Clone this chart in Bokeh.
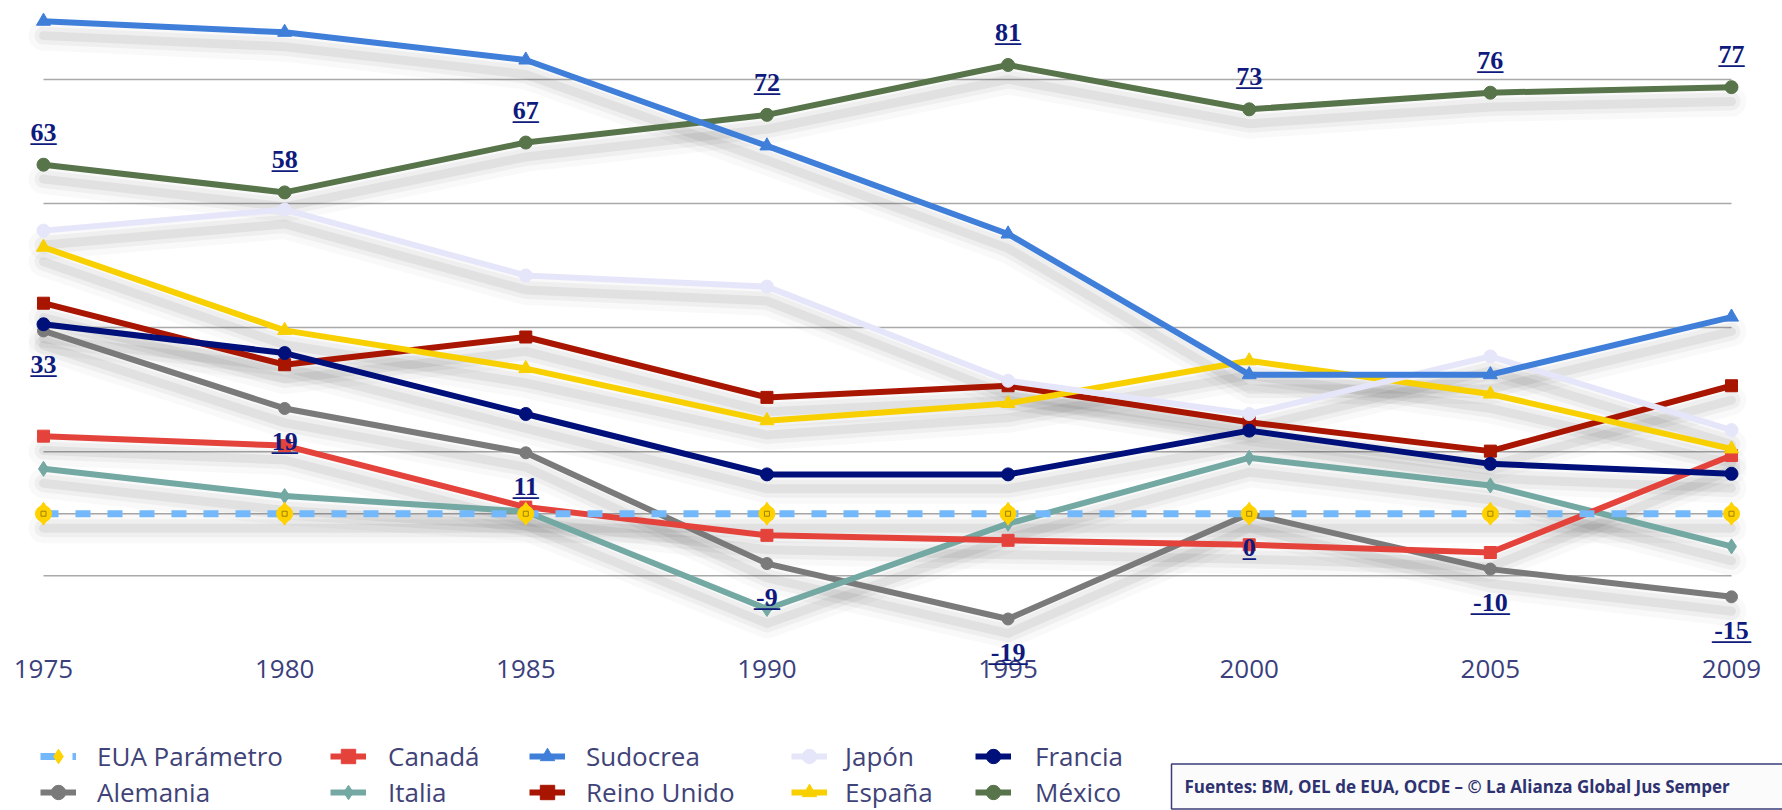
from bokeh.plotting import figure
from bokeh.models import (Range1d, Legend, LegendItem, LabelSet, Label,
                          ColumnDataSource)
from bokeh.core.properties import value
from bokeh.embed import file_html
from bokeh.resources import INLINE

# ---------------- data ----------------
years = ["1975", "1980", "1985", "1990", "1995", "2000", "2005", "2009"]
eua_parametro = [0, 0, 0, 0, 0, 0, 0, 0]
canada = [14.0, 12.3, 1.2, -3.9, -4.8, -5.6, -7.0, 10.5]
sudocrea = [88.9, 86.9, 81.9, 66.4, 50.5, 25.1, 25.1, 35.5]
japon = [51.1, 54.9, 43.0, 41.0, 24.0, 18.0, 28.4, 15.1]
francia = [34.2, 29.0, 18.0, 7.1, 7.1, 15.0, 9.0, 7.2]
alemania = [33, 19, 11, -9, -19, 0, -10, -15]
italia = [8.1, 3.2, 0.4, -17.2, -1.8, 10.1, 5.1, -5.9]
reino_unido = [38.0, 26.9, 31.9, 21.0, 23.1, 16.5, 11.3, 23.1]
espana = [48.1, 33.1, 26.2, 16.8, 19.9, 27.6, 21.6, 11.7]
mexico = [63, 58, 67, 72, 81, 73, 76, 77]

grid_values = [-11.2, 0, 11.2, 33.6, 56.0, 78.4]
source_text = "Fuentes: BM, OEL de EUA, OCDE \u2013 \u00a9 La Alianza Global Jus Semper"

xs = list(range(len(years)))

# ---------------- figure ----------------
W, H = 1782, 810
p = figure(width=W, height=H, output_backend="svg", toolbar_location=None,
           x_range=Range1d(-0.1783, 7.2115), y_range=Range1d(-53.57, 92.64),
           x_axis_type=None, y_axis_type=None,
           min_border_left=0, min_border_right=0, min_border_top=0,
           min_border_bottom=0, outline_line_color=None,
           background_fill_color="white", border_fill_color="white")

# grid lines spanning first to last category
p.segment(x0=xs[0], x1=xs[-1], y0=grid_values, y1=grid_values,
          line_color="#a9a9a9", line_width=1.5)

# series: name, values, colour, marker, size, width, dash
series = [
    ("México", mexico, "#58744a", "circle", 13, 6, "solid"),
    ("Alemania", alemania, "#7a7a7a", "circle", 12, 6, "solid"),
    ("Italia", italia, "#73a8a3", "diamond", 15, 6, "solid"),
    ("Canadá", canada, "#e4433c", "square", 12, 6, "solid"),
    ("Reino Unido", reino_unido, "#a81500", "square", 12, 6, "solid"),
    ("Francia", francia, "#00107a", "circle", 13, 6, "solid"),
    ("España", espana, "#f8d000", "triangle", 14, 6, "solid"),
    ("Japón", japon, "#e6e6fa", "circle", 13, 6, "solid"),
    ("Sudocrea", sudocrea, "#3f7fd9", "triangle", 14, 6, "solid"),
    ("EUA Parámetro", eua_parametro, "#74b8fc", "diamond", 23, 7, "15 17"),
]

# soft shadows below the lines
for name, vals, col, mk, sz, lw, dash in series:
    shadow = [v - 2.6 for v in vals]
    for w, a in [(30, 0.025), (18, 0.04), (9, 0.055)]:
        p.line(xs, shadow, line_width=w, line_color="black", line_alpha=a,
               line_join="round", line_cap="round")

renderers = {}
for name, vals, col, mk, sz, lw, dash in series:
    ln = p.line(xs, vals, line_color=col, line_width=lw, line_dash=dash,
                line_join="round")
    if name == "EUA Parámetro":
        sc = p.scatter(xs, vals, marker=mk, size=sz, fill_color="#ffd200",
                       line_color="#ffd200")
        p.scatter(xs, vals, marker="circle", size=16, fill_color="#ffd200",
                  line_color="#ffd200")
        p.scatter(xs, vals, marker="square", size=5, fill_alpha=0,
                  line_color="#a08000", line_width=1)
        renderers[name] = [ln, sc]
    else:
        sc = p.scatter(xs, vals, marker=mk, size=sz, fill_color=col,
                       line_color=col)
        renderers[name] = [ln, sc]

# ---------------- category labels (x axis) ----------------
year_src = ColumnDataSource(dict(x=xs, t=years, yy=[142] * len(years)))
p.add_layout(LabelSet(x="x", y="yy", y_units="screen", text="t", source=year_src,
                      text_align="center", text_baseline="middle",
                      text_font=value("Open Sans"), text_font_size="26px",
                      text_color="#3b3f7c"))

# ---------------- data labels ----------------
label_color = "#0f1a7d"
mex_src = ColumnDataSource(dict(x=xs, y=mexico, t=[str(v) for v in mexico],
                                u=["_" * len(str(v)) for v in mexico]))
ale_src = ColumnDataSource(dict(x=xs, y=alemania, t=[str(v) for v in alemania],
                                u=["_" * len(str(v)) for v in alemania]))
for src, off in [(mex_src, 24), (ale_src, -42)]:
    for col in ["t", "u"]:
        ls = LabelSet(x="x", y="y", text=col, source=src, y_offset=off,
                      text_align="center", text_baseline="alphabetic",
                      text_font=value("Liberation Serif"),
                      text_font_style="bold", text_font_size="26px",
                      text_color=label_color)
        p.add_layout(ls)

# ---------------- legend (5 columns x 2 rows) ----------------
columns = [
    (["EUA Parámetro", "Alemania"], 40, 21),
    (["Canadá", "Italia"], 330, 22),
    (["Sudocrea", "Reino Unido"], 529, 21),
    (["Japón", "España"], 791, 18),
    (["Francia", "México"], 975, 24),
]
for names, lx, stand in columns:
    items = [LegendItem(label=n, renderers=renderers[n]) for n in names]
    lg = Legend(items=items, location=(lx, 0), orientation="vertical",
                glyph_width=36, glyph_height=36, label_height=36,
                label_standoff=stand, spacing=0, padding=0, margin=0,
                background_fill_alpha=0, border_line_color=None,
                label_text_font="Open Sans", label_text_font_size="26px",
                label_text_color="#3f4378")
    p.add_layout(lg)

# ---------------- source box ----------------
src_label = Label(x=1171, y=24, x_units="screen", y_units="screen",
                  text=source_text, text_baseline="middle", text_align="left",
                  text_font="Open Sans", text_font_style="bold",
                  text_font_size="17px", text_color="#2f3270",
                  background_fill_color="#fbfbfb",
                  border_line_color="#3a3d78", border_line_width=1.5,
                  padding=dict(left=13, right=140, top=11, bottom=11))
p.add_layout(src_label)

open("out.html", "w").write(file_html(p, INLINE))
